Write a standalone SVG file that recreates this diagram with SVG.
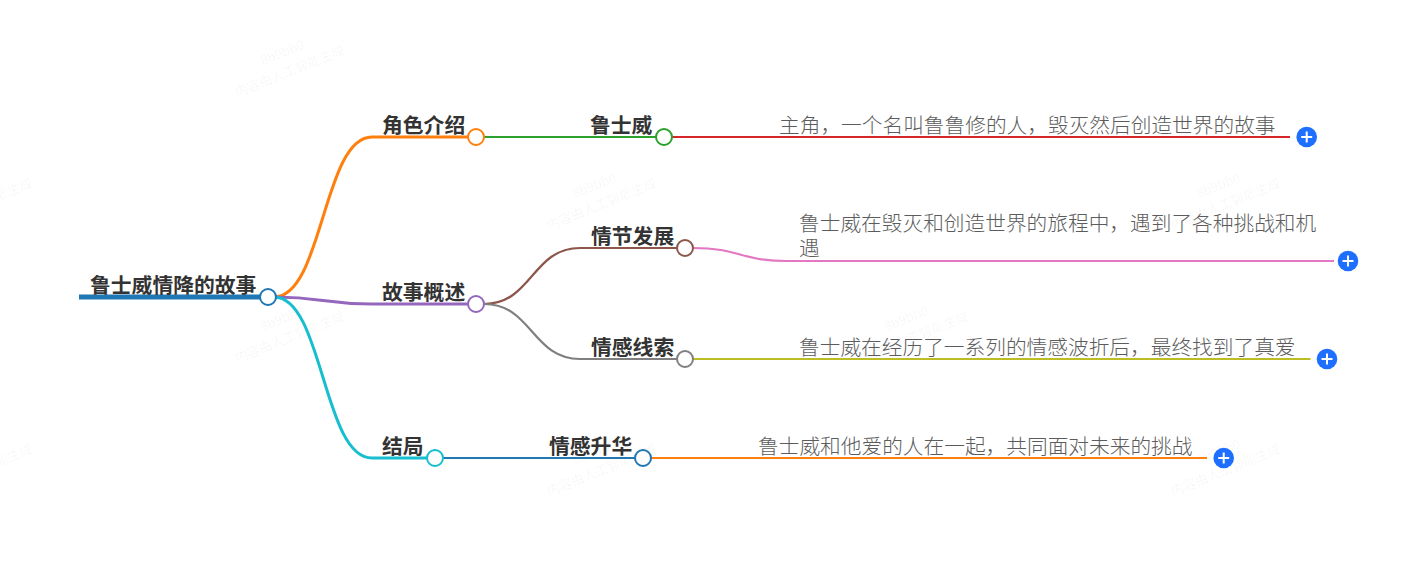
<svg xmlns="http://www.w3.org/2000/svg" width="1427" height="576" viewBox="0 0 1427 576">
<style>
text{font-family:"Noto Sans CJK SC","Noto Sans",sans-serif}
.t{font-size:20.8px;font-weight:700;fill:#333}
.d{font-size:20.7px;font-weight:300;fill:#5c5c5c}
.n{fill:#fff;stroke-width:2}
.l{fill:none;stroke-width:2.2;stroke-linecap:butt}
.m{fill:none;stroke-width:3}
.p{fill:#1e6fff}
.x{stroke:#fff;stroke-width:2;fill:none}
.w{font-size:13px;fill:#000;fill-opacity:.045}
</style>
<defs>
<g id="wm"><text class="w" x="0" y="-11" text-anchor="middle">8b9bb0</text><text class="w" x="0" y="9" text-anchor="middle">内容由人工智能生成</text></g>
<g id="plus"><circle class="p" r="10.3"/><path class="x" d="M-5.5 0H5.5M0-5.5V5.5"/></g>
</defs>
<rect width="1427" height="576" fill="#fff"/>
<g id="watermarks">
<use href="#wm" transform="translate(288 67) rotate(-22)"/>
<use href="#wm" transform="translate(600 200) rotate(-22)"/>
<use href="#wm" transform="translate(1224 200) rotate(-22)"/>
<use href="#wm" transform="translate(-24 200) rotate(-22)"/>
<use href="#wm" transform="translate(288 333) rotate(-22)"/>
<use href="#wm" transform="translate(912 333) rotate(-22)"/>
<use href="#wm" transform="translate(600 466) rotate(-22)"/>
<use href="#wm" transform="translate(1224 466) rotate(-22)"/>
<use href="#wm" transform="translate(-24 466) rotate(-22)"/>
</g>
<g id="connectors">
<path d="M79 297H268" fill="none" stroke="#1f77b4" stroke-width="5"/>
<path class="m" stroke="#ff7f0e" d="M274 297C323 297 323 137 372 137H476"/>
<path class="m" stroke="#9467bd" d="M274 297C323 297 323 304 372 304H476"/>
<path class="m" stroke="#17becf" d="M274 297C323 297 323 458 372 458H435"/>
<path class="l" stroke="#2ca02c" d="M484 137H664"/>
<path class="l" stroke="#8c564b" d="M484 304C532 304 532 248 580 248H685"/>
<path class="l" stroke="#7f7f7f" d="M484 304C532 304 532 359 580 359H685"/>
<path class="l" stroke="#1f77b4" d="M443 458H643"/>
<path class="l" stroke="#d62728" d="M672 137H1290"/>
<path class="l" stroke="#e377c2" d="M693 248C740 248 740 261 787 261H1334"/>
<path class="l" stroke="#bcbd22" d="M693 359H1310.5"/>
<path class="l" stroke="#ff7f0e" d="M651 458H1207"/>
</g>
<g id="root"><text class="t" x="90" y="293">鲁士威情降的故事</text><circle class="n" cx="268" cy="297" r="8" stroke="#1f77b4"/></g>
<g id="n1"><text class="t" x="382" y="133">角色介绍</text><circle class="n" cx="476" cy="137" r="8" stroke="#ff7f0e"/></g>
<g id="n2"><text class="t" x="382" y="300">故事概述</text><circle class="n" cx="476" cy="304" r="8" stroke="#9467bd"/></g>
<g id="n3"><text class="t" x="382" y="454">结局</text><circle class="n" cx="435" cy="458" r="8" stroke="#17becf"/></g>
<g id="n11"><text class="t" x="590" y="133">鲁士威</text><circle class="n" cx="664" cy="137" r="8" stroke="#2ca02c"/></g>
<g id="n21"><text class="t" x="591" y="244">情节发展</text><circle class="n" cx="685" cy="248" r="8" stroke="#8c564b"/></g>
<g id="n22"><text class="t" x="591" y="355">情感线索</text><circle class="n" cx="685" cy="359" r="8" stroke="#7f7f7f"/></g>
<g id="n31"><text class="t" x="549" y="454">情感升华</text><circle class="n" cx="643" cy="458" r="8" stroke="#1f77b4"/></g>
<g id="n111"><text class="d" x="779" y="133">主角，一个名叫鲁鲁修的人，毁灭然后创造世界的故事</text><use href="#plus" x="1306.7" y="137"/></g>
<g id="n211"><text class="d" x="799" y="231"><tspan x="799">鲁士威在毁灭和创造世界的旅程中，遇到了各种挑战和机</tspan><tspan x="799" y="256">遇</tspan></text><use href="#plus" x="1348" y="261"/></g>
<g id="n221"><text class="d" x="799" y="355">鲁士威在经历了一系列的情感波折后，最终找到了真爱</text><use href="#plus" x="1327" y="359"/></g>
<g id="n311"><text class="d" x="758" y="454">鲁士威和他爱的人在一起，共同面对未来的挑战</text><use href="#plus" x="1223.7" y="458"/></g>
</svg>
